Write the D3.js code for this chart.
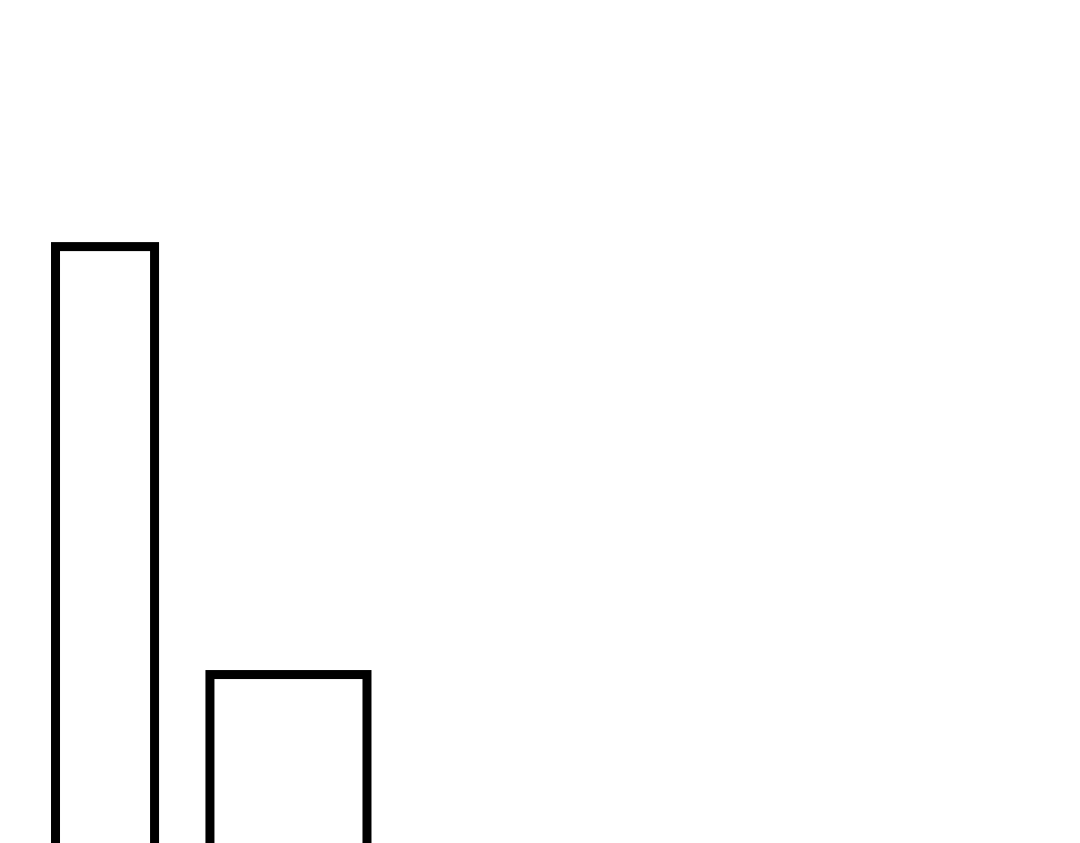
<!DOCTYPE html>
<html>
<head>
<meta charset="utf-8">
<script src="https://cdn.jsdelivr.net/npm/d3@7"></script>
<style>
  html, body { margin: 0; padding: 0; background: #fff; }
  svg { display: block; }
</style>
</head>
<body>
<svg id="chart"></svg>
<script>
// bins (start / end) and heights
var binStart = [5.14, 19.44]
var binEnd = [14.31, 33.98]
var values = [72.6, 25.05]

var width = 1080
var height = 843

var svg = d3.select("#chart")
    .attr("width", width)
    .attr("height", height)

// x in bin units, y baseline sits below the visible area
var x = d3.scaleLinear().domain([0, 100]).range([0, width])
var y = d3.scaleLinear().domain([0, 100]).range([900, 0])

var bars = binStart.map((d, i) => ({ x0: d, x1: binEnd[i], v: values[i] }))

svg.append("g")
    .attr("class", "bars")
    .selectAll("rect")
    .data(bars)
    .enter().append("rect")
    .attr("x", d => x(d.x0))
    .attr("y", d => y(d.v))
    .attr("width", d => x(d.x1) - x(d.x0))
    .attr("height", d => y(0) - y(d.v))
    .attr("fill", "white")
    .attr("stroke", "black")
    .attr("stroke-width", 9)
</script>
</body>
</html>
